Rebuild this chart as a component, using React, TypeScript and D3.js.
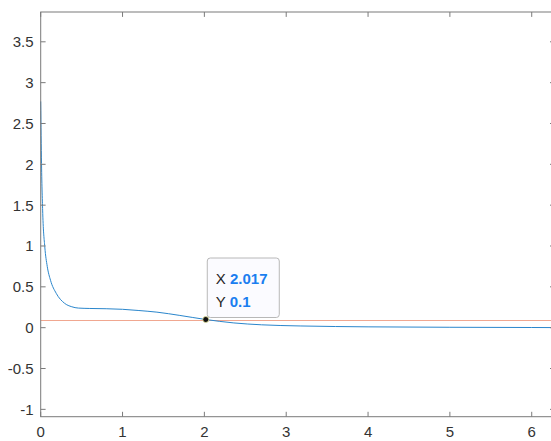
import { scaleLinear, line, curveMonotoneX } from "d3";

const width = 551;
const height = 441;
const left = 40.7;
const right = 554.9;
const top = 12;
const bottom = 416.7;

const xDomain = [0, 2 * Math.PI];
const yDomain = [-1.09, 3.865];

const xTicks = [0, 1, 2, 3, 4, 5, 6];
const yTicks = [-1, -0.5, 0, 0.5, 1, 1.5, 2, 2.5, 3, 3.5];

// curve
const curveX = [0, 0.005, 0.01, 0.025, 0.05, 0.08, 0.12, 0.19, 0.29, 0.38, 0.46, 0.6, 0.8, 1.0, 1.2, 1.42, 1.7, 2.017, 2.36, 2.7, 3.17, 3.6, 4.0, 5.0, 6.0, 6.283];
const curveY = [2.77, 2.35, 2.01, 1.4, 0.99, 0.75, 0.58, 0.42, 0.3, 0.256, 0.24, 0.235, 0.232, 0.225, 0.21, 0.19, 0.15, 0.1, 0.058, 0.035, 0.021, 0.014, 0.01, 0.005, 0.002, 0.001];

const threshold = 0.1;
const tipX = 2.017;
const tipY = 0.1;

const fontFamily = "'Liberation Sans', Arial, Helvetica, sans-serif";

export default function App() {
  const x = scaleLinear().domain(xDomain).range([left, right]);
  const y = scaleLinear().domain(yDomain).range([bottom, top]);

  const pts = curveX.map((v, i) => [v, curveY[i]] as [number, number]);
  const path = line<[number, number]>()
    .x((d) => x(d[0]))
    .y((d) => y(d[1]))
    .curve(curveMonotoneX)(pts);

  const axisColor = "#7a7a7a";
  const tickLen = 4.9;
  const px = x(tipX);
  const py = y(tipY);
  const ty = Math.round(y(threshold)) + 0.5;

  return (
    <svg
      width={width}
      height={height}
      style={{ position: "absolute", left: 0, top: 0, background: "white" }}
    >
      <line x1={x(0)} x2={x(xDomain[1])} y1={ty} y2={ty} stroke="#f0a790" strokeWidth={1} />
      <path d={path ?? ""} fill="none" stroke="#2a86cc" strokeWidth={1} />

      {/* box */}
      <rect x={left} y={top} width={right - left} height={bottom - top} fill="none" stroke={axisColor} strokeWidth={1} />
      {xTicks.map((t) => (
        <g key={"x" + t}>
          <line x1={x(t)} x2={x(t)} y1={bottom} y2={bottom - tickLen} stroke={axisColor} />
          <line x1={x(t)} x2={x(t)} y1={top} y2={top + tickLen} stroke={axisColor} />
          <text x={x(t)} y={437} textAnchor="middle" fontSize={15} fill="#333" fontFamily={fontFamily}>
            {t}
          </text>
        </g>
      ))}
      {yTicks.map((t) => (
        <g key={"y" + t}>
          <line x1={left} x2={left + tickLen} y1={y(t)} y2={y(t)} stroke={axisColor} />
          <line x1={right} x2={right - tickLen} y1={y(t)} y2={y(t)} stroke={axisColor} />
          <text x={33.5} y={y(t)} dy="0.36em" textAnchor="end" fontSize={15} fill="#333" fontFamily={fontFamily}>
            {t}
          </text>
        </g>
      ))}

      {/* data tip */}
      <rect x={px + 1.5} y={258} width={72} height={59.5} rx={3} fill="#fbfbff" stroke="#b8b8b8" strokeWidth={1} />
      <text x={px + 10} y={284} fontSize={15} fontFamily={fontFamily} fill="#262626">
        X <tspan fill="#1a7ef0" fontWeight="bold">{tipX.toFixed(3)}</tspan>
      </text>
      <text x={px + 10} y={306.7} fontSize={15} fontFamily={fontFamily} fill="#262626">
        Y <tspan fill="#1a7ef0" fontWeight="bold">{tipY}</tspan>
      </text>
      <circle cx={px} cy={py} r={3} fill="#111" stroke="#e8e8a0" strokeWidth={0.8} />
    </svg>
  );
}
